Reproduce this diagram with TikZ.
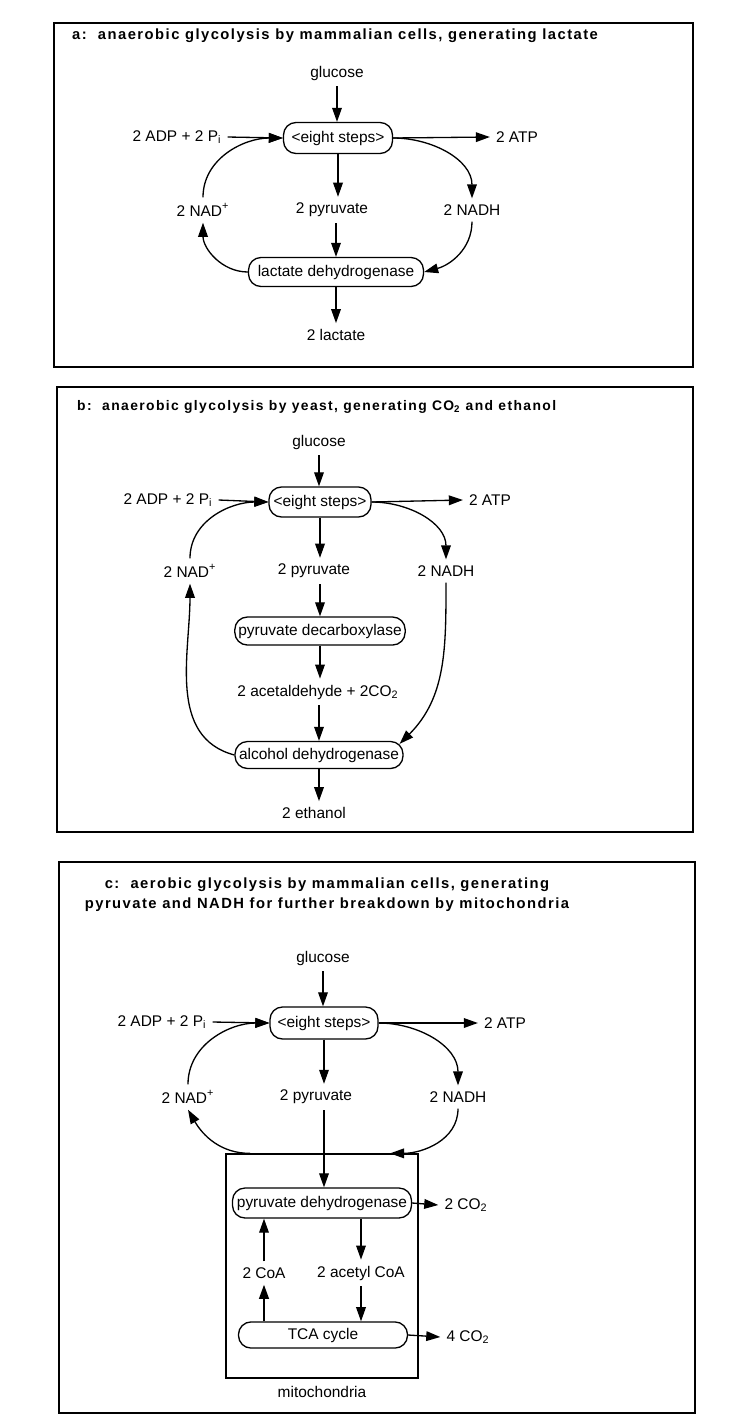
\documentclass[tikz,border=0pt]{standalone}
\usepackage{fontspec}
\setmainfont{Liberation Sans}
\newfontfamily\titlefont[LetterSpace=10]{Liberation Sans Bold}
\usepackage{tikz}
\usetikzlibrary{arrows.meta, positioning, calc}
\tikzstyle{enzyme} = [rectangle, draw, rounded corners=0.25cm, inner xsep=2pt, line width=0.75pt]
\tikzstyle{arrow} = [-{Triangle[length=8pt, width=5.5pt]}, line width=0.75pt]
\tikzstyle{panel} = [draw, line width=0.8pt]
\tikzstyle{heading} = [font=\titlefont\fontsize{8.4}{11.3}\selectfont, anchor=west]

\begin{document}
\begin{tikzpicture}[x=0.02cm, y=0.02cm, font=\fontsize{8.8}{10.5}\selectfont]
    \useasboundingbox (0,0) rectangle (747,-1428);

    % a: mammalian cells, lactate
    \draw[panel] (54,-23) rectangle (693,-367);
    \node[heading] (titleA) at (66,-36) {a:\ \ anaerobic glycolysis by mammalian cells, generating lactate};
    \node (glucA) at (337,-73) {glucose};
    \node[enzyme, minimum width=2.18cm, minimum height=0.62cm] (stepsA) at (338,-138) {<eight steps>};
    \node (adpA) at (177,-137) {2 ADP + 2 P\textsubscript{i}};
    \node (atpA) at (517,-137) {2 ATP};
    \node (nadA) at (203,-210) {2 NAD\textsuperscript{+}};
    \node (pyrA) at (332,-210) {2 pyruvate};
    \node (nadhA) at (472,-210) {2 NADH};
    \node[enzyme, minimum width=3.5cm, minimum height=0.58cm] (ldhA) at (336,-272) {lactate dehydrogenase};
    \node (lacA) at (336,-335) {2 lactate};
    \draw[arrow] (glucA) -- (glucA |- stepsA.north);
    \draw[arrow] (adpA.east) -- (stepsA.west);
    \draw[arrow] (stepsA.east) -- (atpA.west);
    \draw[arrow] (stepsA) -- (stepsA |- pyrA.north);
    \draw[arrow] (pyrA.south -| ldhA) -- (ldhA.north);
    \draw[arrow] (ldhA) -- (ldhA |- lacA.north);
    \draw[arrow] (nadA.north) to[out=90, in=180] (stepsA.west);
    \draw[arrow] (stepsA.east) to[out=0, in=90] (nadhA.north);
    \draw[arrow] (nadhA.south) to[out=-90, in=15] (ldhA.east);
    \draw[arrow] (ldhA.west) to[out=180, in=-90] (nadA.south);

    % b: yeast, ethanol
    \draw[panel] (57,-387) rectangle (693,-832);
    \node[heading, font=\titlefont\fontsize{7.9}{11.3}\selectfont] (titleB) at (71,-407) {b:\ \ anaerobic glycolysis by yeast, generating CO\textsubscript{2} and ethanol};
    \node (glucB) at (319,-442) {glucose};
    \node[enzyme, minimum width=2.04cm, minimum height=0.6cm] (stepsB) at (320,-502) {<eight steps>};
    \node (adpB) at (168,-500) {2 ADP + 2 P\textsubscript{i}};
    \node (atpB) at (490,-500) {2 ATP};
    \node (nadB) at (190,-571) {2 NAD\textsuperscript{+}};
    \node (pyrB) at (314,-571) {2 pyruvate};
    \node (nadhB) at (446,-571) {2 NADH};
    \node[enzyme, minimum width=3.34cm, minimum height=0.56cm] (pdcB) at (320,-631) {pyruvate decarboxylase};
    \node (aceB) at (318,-692) {2 acetaldehyde + 2CO\textsubscript{2}};
    \node[enzyme, minimum width=3.36cm, minimum height=0.54cm] (adhB) at (319,-755) {alcohol dehydrogenase};
    \node (ethB) at (314,-813) {2 ethanol};
    \draw[arrow] (glucB) -- (glucB |- stepsB.north);
    \draw[arrow] (adpB.east) -- (stepsB.west);
    \draw[arrow] (stepsB.east) -- (atpB.west);
    \draw[arrow] (stepsB) -- (stepsB |- pyrB.north);
    \draw[arrow] (pyrB.south -| pdcB) -- (pdcB.north);
    \draw[arrow] (pdcB) -- (pdcB |- aceB.north);
    \draw[arrow] (aceB.south -| adhB) -- (adhB.north);
    \draw[arrow] (adhB) -- (adhB |- ethB.north);
    \draw[arrow] (nadB.north) to[out=90, in=180] (stepsB.west);
    \draw[arrow] (stepsB.east) to[out=0, in=90] (nadhB.north);
    \draw[arrow] (nadhB.south) to[out=-90, in=45] ($(adhB.north east)+(-4,-3)$);
    \draw[arrow] (adhB.west) to[out=165, in=-90] (nadB.south);

    % c: aerobic, mitochondria
    \draw[panel] (59,-862) rectangle (695,-1413);
    \node[heading, anchor=center, align=center] (titleC) at (327,-895) {c:\ \ aerobic glycolysis by mammalian cells, generating\\pyruvate and NADH for further breakdown by mitochondria};
    \node (glucC) at (323,-958) {glucose};
    \node[enzyme, minimum width=2.16cm, minimum height=0.64cm] (stepsC) at (324,-1023) {<eight steps>};
    \node (adpC) at (162,-1022) {2 ADP + 2 P\textsubscript{i}};
    \node (atpC) at (505,-1023) {2 ATP};
    \node (nadC) at (188,-1097) {2 NAD\textsuperscript{+}};
    \node (pyrC) at (316,-1097) {2 pyruvate};
    \node (nadhC) at (458,-1097) {2 NADH};
    \node[draw, line width=0.75pt, minimum width=3.84cm, minimum height=4.48cm] (mitoC) at (322,-1266) {};
    \node[below=0.02cm of mitoC] (mitoLabel) {mitochondria};
    \coordinate (inC) at ($(mitoC.north)+(68,0)$);
    \coordinate (outC) at ($(mitoC.north)+(-72,0)$);
    \node[enzyme, minimum width=3.58cm, minimum height=0.6cm] (pdhC) at (322,-1203) {pyruvate dehydrogenase};
    \node (co2aC) at (466,-1205) {2 CO\textsubscript{2}};
    \node (coaC) at (264,-1273) {2 CoA};
    \node (acoaC) at (361,-1273) {2 acetyl CoA};
    \node[enzyme, minimum width=3.38cm, minimum height=0.5cm] (tcaC) at (323,-1335) {TCA cycle};
    \node (co2bC) at (468,-1337) {4 CO\textsubscript{2}};
    \draw[arrow] (glucC) -- (glucC |- stepsC.north);
    \draw[arrow] (adpC.east) -- (stepsC.west);
    \draw[arrow] (stepsC.east) -- (atpC.west);
    \draw[arrow] (stepsC) -- (stepsC |- pyrC.north);
    \draw[arrow] (pyrC.south -| stepsC) -- (pdhC.north -| stepsC);
    \draw[arrow] (stepsC.east) to[out=0, in=90] (nadhC.north);
    \draw[arrow] (nadC.north) to[out=90, in=180] (stepsC.west);
    \draw[arrow] (nadhC.south) to[out=-90, in=0] (inC);
    \draw[arrow] (outC) to[out=180, in=-60] (nadC.south);
    \draw[arrow] (pdhC.east) -- (co2aC.west);
    \draw[arrow] (pdhC.south -| acoaC) -- (acoaC.north);
    \draw[arrow] (acoaC.south) -- (tcaC.north -| acoaC);
    \draw[arrow] (coaC.north) -- (pdhC.south -| coaC);
    \draw[arrow, line width=1.1pt] (tcaC.north -| coaC) -- (coaC.south);
    \draw[arrow] (tcaC.east) -- (co2bC.west);
\end{tikzpicture}
\end{document}
